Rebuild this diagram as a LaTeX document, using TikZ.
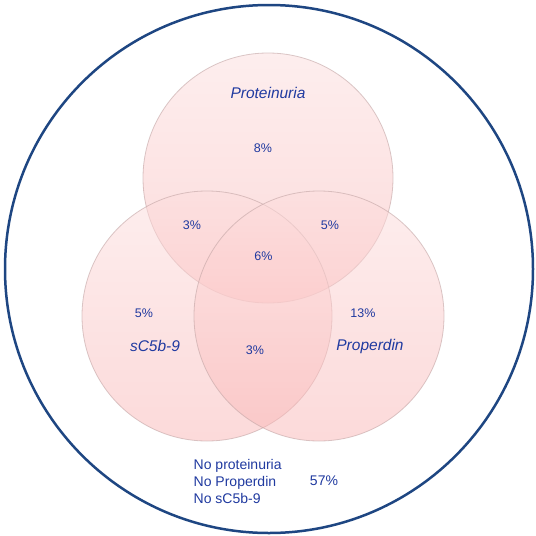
\documentclass[tikz,border=0pt]{standalone}
\usepackage{fontspec}
\setmainfont{Liberation Sans}
\begin{document}
\begin{tikzpicture}[x=1pt,y=-1pt,
  txt/.style={text=txtblue,inner sep=0pt,font=\fontsize{12.5}{14}\selectfont},
  lab/.style={text=txtblue,inner sep=0pt,font=\fontsize{15.5}{18}\selectfont\itshape},
  venn/.style={top color=pinktop,bottom color=pinkbot,fill opacity=0.5,draw=ringgray,draw opacity=0.6,line width=0.8pt}]
\definecolor{txtblue}{RGB}{32,58,160}
\definecolor{ringblue}{RGB}{30,70,130}
\definecolor{pinktop}{RGB}{253,222,222}
\definecolor{pinkbot}{RGB}{250,182,182}
\definecolor{ringgray}{RGB}{195,165,165}
\useasboundingbox (0,0) rectangle (536,536);
\fill[white] (0,0) rectangle (536,536);
\draw[ringblue,line width=2.5pt] (269,269) circle[radius=264];
\shade[venn] (268,178) circle[radius=125];
\shade[venn] (207,316) circle[radius=125];
\shade[venn] (319,316) circle[radius=125];
\node[lab] (lp) at (268,93) {Proteinuria};
\node[lab] (ls) at (155,346) {sC5b-9};
\node[lab] (lr) at (370,346) {Properdin};
\node[txt] (p8) at (263,148) {8\%};
\node[txt] (ps3) at (192,225) {3\%};
\node[txt] (pr5) at (330,225) {5\%};
\node[txt] (c6) at (263.5,256) {6\%};
\node[txt] (s5) at (144,313) {5\%};
\node[txt] (r13) at (363,313) {13\%};
\node[txt] (sr3) at (255,350) {3\%};
\node[txt,font=\fontsize{14}{17}\selectfont,anchor=west,align=left] (none) at (193.5,481) {No proteinuria\\No Properdin\\No sC5b-9};
\node[txt,font=\fontsize{14}{17}\selectfont] (n57) at (324,481) {57\%};
\end{tikzpicture}
\end{document}
